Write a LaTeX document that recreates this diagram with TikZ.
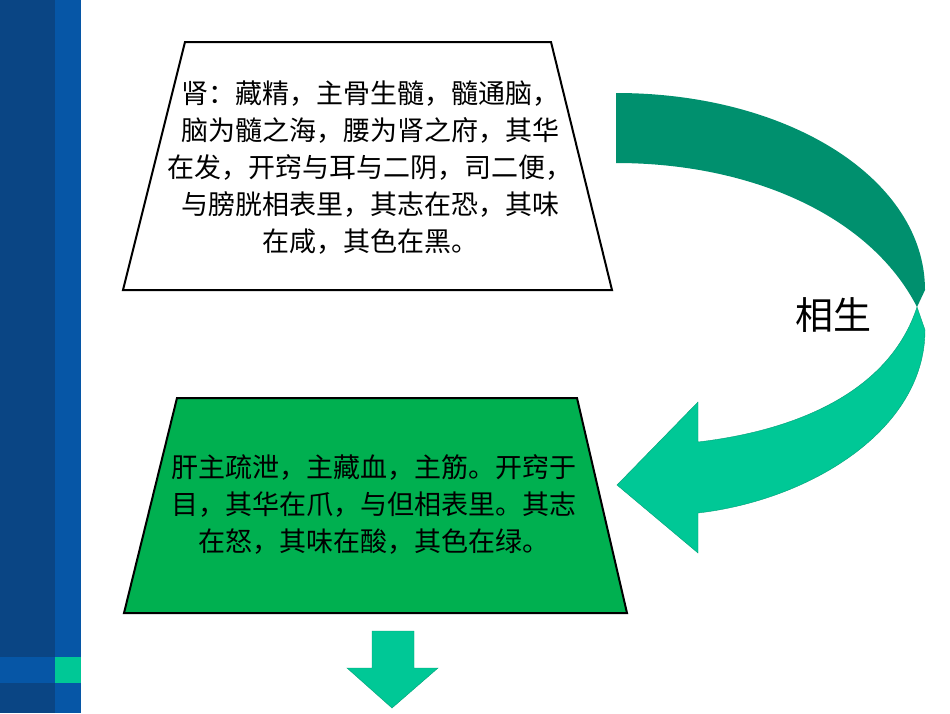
\documentclass[tikz,border=0pt]{standalone}
\usepackage{fontspec}
\newfontfamily\cjk{Noto Sans CJK SC}
\definecolor{barA}{HTML}{0A4584}
\definecolor{barB}{HTML}{0656A6}
\definecolor{teal}{HTML}{00C896}
\definecolor{darkteal}{HTML}{00906E}
\definecolor{grn}{HTML}{00B050}
\tikzset{txt/.style={font=\cjk\fontsize{27}{37}\selectfont,align=center,text=black},
 trap/.style={draw=black,line width=2pt}}
\begin{document}
\begin{tikzpicture}[x=1pt,y=-1pt]
\useasboundingbox (0,0) rectangle (950,713);
\fill[white] (0,0) rectangle (950,713);
% left bar
\fill[barA] (0,0) rectangle (55,713);
\fill[barB] (55,0) rectangle (81,713);
\fill[barB] (0,657) rectangle (55,683);
\fill[teal] (55,657) rectangle (81,683);
% trapezoids
\draw[trap,fill=white] (185,42) -- (551,42) -- (612,290) -- (123,290) -- cycle;
\draw[trap,fill=grn] (177,398) -- (577,398) -- (627,613) -- (124,613) -- cycle;
\node[txt] (kidney) at (370,168) {肾：藏精，主骨生髓，髓通脑，\\脑为髓之海，腰为肾之府，其华\\在发，开窍与耳与二阴，司二便，\\与膀胱相表里，其志在恐，其味\\在咸，其色在黑。};
\node[txt] (liver) at (374,505) {肝主疏泄，主藏血，主筋。开窍于\\目，其华在爪，与但相表里。其志\\在怒，其味在酸，其色在绿。};
% curved arrow
\fill[darkteal] (616,93) .. controls (790,93) and (925,180) .. (925,290) -- (917,307) .. controls (870,215) and (750,163) .. (616,163) -- cycle;
\draw[teal!80!black,fill=teal] (917,307) -- (925,330) .. controls (925,430) and (810,500) .. (698,513) -- (698,553) -- (617,485) -- (698,402) -- (698,442) .. controls (800,430) and (890,390) .. (917,307) -- cycle;
\node[font=\cjk\fontsize{38}{40}\selectfont] (rel) at (833,315) {相生};
% down arrow
\draw[teal!80!black,fill=teal] (372,631) -- (414,631) -- (414,668) -- (438,668) -- (392,708) -- (347,668) -- (372,668) -- cycle;
\end{tikzpicture}
\end{document}
